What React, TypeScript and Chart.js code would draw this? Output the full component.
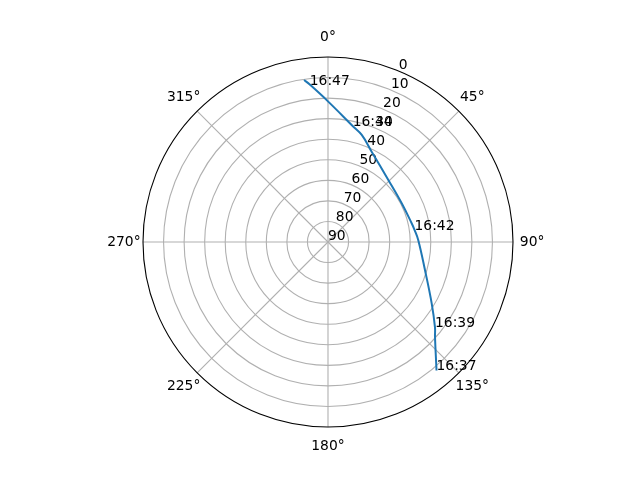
import { useEffect, useRef } from 'react'
import Chart from 'chart.js/auto'

// satellite pass, azimuth (deg, clockwise from north) and elevation (deg)
const trackAz = [139.8, 131.5, 128.6, 120.6, 106.1, 88.7, 82, 77.4, 62.3, 44.2, 25.8, 17.5, 12, 0.1, 353.4, 351.6]
const trackEl = [8.2, 20.5, 23.4, 31.4, 40.9, 46.1, 47.5, 48.3, 49.5, 47.9, 41.2, 35.4, 32.3, 21.7, 12.9, 10.3]

// time annotations along the track
const passTimes = ['16:37', '16:39', '16:42', '16:44', '16:47']
const passAz = [139.8, 128.6, 82, 12, 353.4]
const passEl = [8.2, 23.4, 47.5, 32.3, 12.9]

const elevationTicks = [0, 10, 20, 30, 40, 50, 60, 70, 80, 90]
const azimuthTicks = [0, 45, 90, 135, 180, 225, 270, 315]

const FONT = "13.89px 'DejaVu Sans'"

function toXY(az: number, el: number) {
  const r = 90 - el
  const a = (az * Math.PI) / 180
  return { x: r * Math.sin(a), y: r * Math.cos(a) }
}

const polarGrid = {
  id: 'polarGrid',
  beforeDraw(chart: any) {
    const ctx = chart.ctx
    ctx.save()
    ctx.fillStyle = '#ffffff'
    ctx.fillRect(0, 0, chart.width, chart.height)
    ctx.restore()
  },
  beforeDatasetsDraw(chart: any) {
    const ctx = chart.ctx
    const xs = chart.scales.x
    const ys = chart.scales.y
    const px = (az: number, r: number) => {
      const a = (az * Math.PI) / 180
      return [xs.getPixelForValue(r * Math.sin(a)), ys.getPixelForValue(r * Math.cos(a))]
    }
    const cx = xs.getPixelForValue(0)
    const cy = ys.getPixelForValue(0)
    const unit = xs.getPixelForValue(1) - cx

    ctx.save()
    ctx.strokeStyle = '#b0b0b0'
    ctx.lineWidth = 1.1
    elevationTicks.forEach((v) => {
      if (v === 0 || v === 90) return
      ctx.beginPath()
      ctx.arc(cx, cy, (90 - v) * unit, 0, Math.PI * 2)
      ctx.stroke()
    })
    azimuthTicks.forEach((az) => {
      const [x, y] = px(az, 90)
      ctx.beginPath()
      ctx.moveTo(cx, cy)
      ctx.lineTo(x, y)
      ctx.stroke()
    })

    ctx.strokeStyle = '#000000'
    ctx.beginPath()
    ctx.arc(cx, cy, 90 * unit, 0, Math.PI * 2)
    ctx.stroke()

    ctx.fillStyle = '#000000'
    ctx.font = FONT
    ctx.textAlign = 'center'
    ctx.textBaseline = 'middle'
    azimuthTicks.forEach((az) => {
      const [x, y] = px(az, 99.3)
      ctx.fillText(az + '°', x, y)
    })

    ctx.textAlign = 'left'
    ctx.textBaseline = 'bottom'
    elevationTicks.forEach((v) => {
      const [x, y] = px(22.5, 90 - v)
      ctx.fillText(String(v), x, y + 1)
    })
    ctx.restore()
  },
  afterDatasetsDraw(chart: any) {
    const ctx = chart.ctx
    const xs = chart.scales.x
    const ys = chart.scales.y
    ctx.save()
    ctx.fillStyle = '#000000'
    ctx.font = FONT
    ctx.textAlign = 'left'
    ctx.textBaseline = 'alphabetic'
    passTimes.forEach((t, i) => {
      const p = toXY(passAz[i], passEl[i])
      ctx.fillText(t, xs.getPixelForValue(p.x), ys.getPixelForValue(p.y))
    })
    ctx.restore()
  },
}

export default function App() {
  const canvasRef = useRef<HTMLCanvasElement>(null)

  useEffect(() => {
    document.body.style.margin = '0'
    if (!canvasRef.current) return

    const chart = new Chart(canvasRef.current, {
      type: 'scatter',
      data: {
        datasets: [{
          data: trackAz.map((az, i) => toXY(az, trackEl[i])),
          showLine: true,
          borderColor: '#1f77b4',
          borderWidth: 2,
          pointRadius: 0,
          tension: 0.4,
          fill: false,
        }]
      },
      options: {
        responsive: false,
        maintainAspectRatio: false,
        animation: false,
        layout: { padding: { left: 143, right: 127, top: 57, bottom: 53 } },
        scales: {
          x: { type: 'linear', min: -90, max: 90, display: false },
          y: { type: 'linear', min: -90, max: 90, display: false }
        },
        plugins: {
          legend: { display: false },
          tooltip: { enabled: false }
        }
      },
      plugins: [polarGrid]
    })

    return () => chart.destroy()
  }, [])

  return (
    <div style={{ width: 640, height: 480 }}>
      <canvas ref={canvasRef} width={640} height={480} />
    </div>
  )
}
